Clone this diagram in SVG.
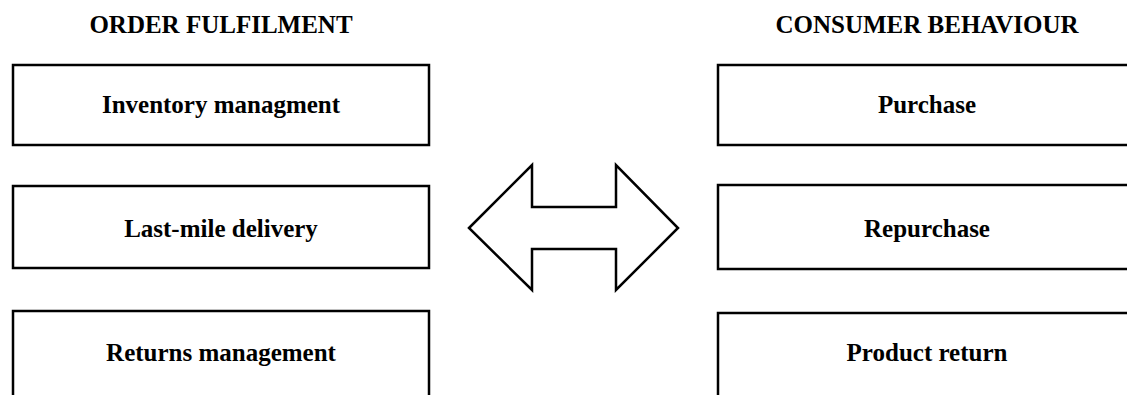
<svg xmlns="http://www.w3.org/2000/svg" width="1127" height="395" viewBox="0 0 1127 395">
<style>
.box{fill:#fff;stroke:#000;stroke-width:2.5}
.t{font-family:"Liberation Serif","Times New Roman",serif;font-weight:bold;font-size:25px;text-anchor:middle;fill:#000}
.arrow{fill:#fff;stroke:#000;stroke-width:2.5;stroke-linejoin:miter}
</style>
<rect width="1127" height="395" fill="#fff"/>
<g id="title-left"><text class="t" x="221" y="33">ORDER FULFILMENT</text></g>
<g id="title-right"><text class="t" x="927" y="33">CONSUMER BEHAVIOUR</text></g>
<g id="inventory"><rect class="box" x="13" y="65" width="416" height="80"/><text class="t" x="221" y="113">Inventory managment</text></g>
<g id="lastmile"><rect class="box" x="13" y="186" width="416" height="82"/><text class="t" x="221" y="237">Last-mile delivery</text></g>
<g id="returns"><rect class="box" x="13" y="311" width="416" height="100"/><text class="t" x="221" y="361">Returns management</text></g>
<g id="purchase"><rect class="box" x="718" y="65" width="420" height="80"/><text class="t" x="927" y="113">Purchase</text></g>
<g id="repurchase"><rect class="box" x="718" y="185" width="420" height="84"/><text class="t" x="927" y="237">Repurchase</text></g>
<g id="productreturn"><rect class="box" x="718" y="313" width="420" height="100"/><text class="t" x="927" y="361">Product return</text></g>
<g id="connectors">
<polygon class="arrow" points="469,228 532,165 532,207 616,207 616,165 678,228 616,290 616,249 532,249 532,290"/>
</g>
</svg>
